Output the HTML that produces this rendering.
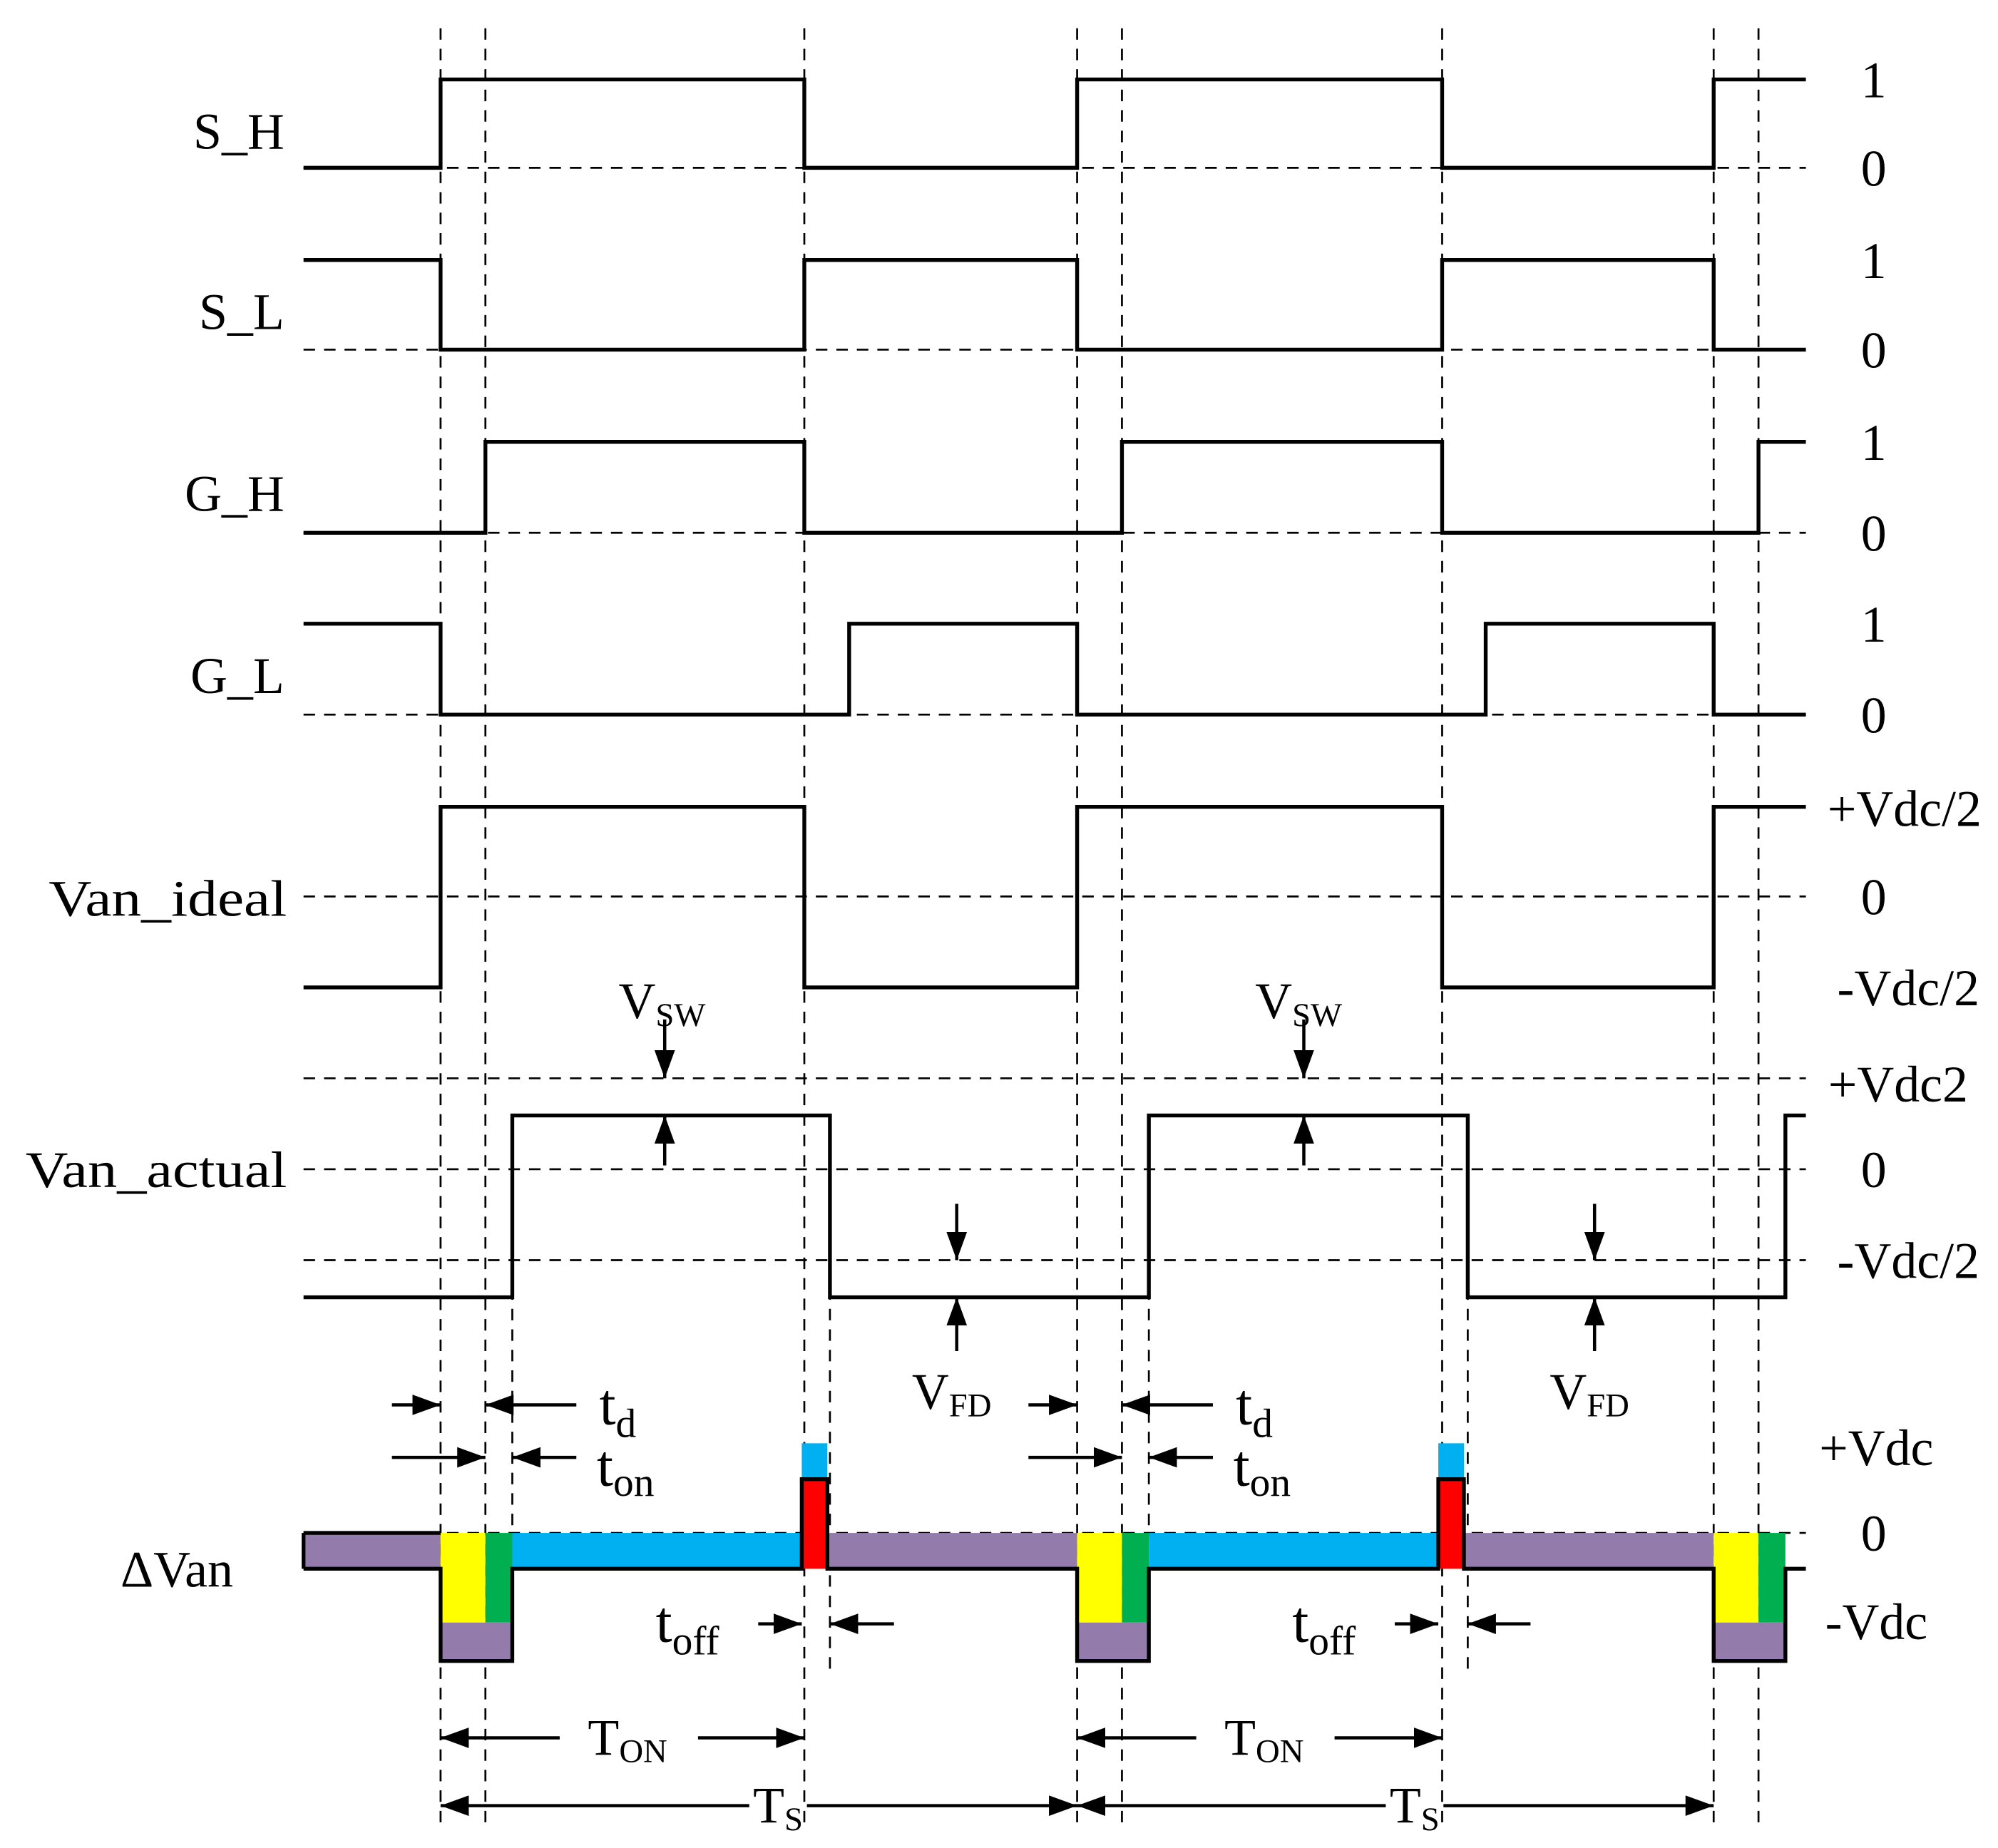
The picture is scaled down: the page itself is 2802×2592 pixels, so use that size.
<!DOCTYPE html>
<html><head><meta charset="utf-8"><style>html,body{margin:0;padding:0;background:#fff}svg{display:block}</style></head><body>
<svg width="2802" height="2592" viewBox="0 0 1560 1443" xmlns="http://www.w3.org/2000/svg" font-family="'Liberation Serif', serif">
<defs>
<marker id="ah" markerWidth="22" markerHeight="16" refX="22" refY="8" orient="auto" markerUnits="userSpaceOnUse" viewBox="0 0 22 16"><path d="M0,0 L22,8 L0,16z" fill="#000"/></marker>
</defs>
<rect width="1560" height="1443" fill="#fff"/>
<g stroke="#000" stroke-width="1.5" stroke-dasharray="9,7" fill="none">
<path d="M344 22V1428M379 22V1428M628 22V1428M841 22V1428M876 22V1428M1126 22V1428M1338 22V1428M1373 22V1428"/>
<path d="M400 990V1200M648 990V1305M897 990V1200M1146 990V1305"/>
<path d="M237 131H1410M237 273H1410M237 416H1410M237 558H1410M237 700H1410M237 842H1410M237 913H1410M237 984H1410M237 1197H1410"/>
</g>
<g stroke="none">
<rect x="237" y="1197" width="107" height="28" fill="#937cab"/>
<rect x="344" y="1197" width="35" height="70" fill="#ffff00"/>
<rect x="379" y="1197" width="21" height="70" fill="#00b050"/>
<rect x="344" y="1267" width="56" height="30" fill="#937cab"/>
<rect x="400" y="1197" width="226" height="28" fill="#00b0f0"/>
<rect x="626" y="1127" width="20" height="28" fill="#00b0f0"/>
<rect x="626" y="1155" width="20" height="70" fill="#ff0000"/>
<rect x="646" y="1197" width="195" height="28" fill="#937cab"/>
<rect x="841" y="1197" width="35" height="70" fill="#ffff00"/>
<rect x="876" y="1197" width="21" height="70" fill="#00b050"/>
<rect x="841" y="1267" width="56" height="30" fill="#937cab"/>
<rect x="897" y="1197" width="226" height="28" fill="#00b0f0"/>
<rect x="1123" y="1127" width="20" height="28" fill="#00b0f0"/>
<rect x="1123" y="1155" width="20" height="70" fill="#ff0000"/>
<rect x="1143" y="1197" width="195" height="28" fill="#937cab"/>
<rect x="1338" y="1197" width="35" height="70" fill="#ffff00"/>
<rect x="1373" y="1197" width="21" height="70" fill="#00b050"/>
<rect x="1338" y="1267" width="56" height="30" fill="#937cab"/>
</g>
<g stroke="#000" stroke-width="3" fill="none" stroke-linejoin="miter">
<path d="M237 131H344V62H628V131H841V62H1126V131H1338V62H1410"/>
<path d="M237 203H344V273H628V203H841V273H1126V203H1338V273H1410"/>
<path d="M237 416H379V345H628V416H876V345H1126V416H1373V345H1410"/>
<path d="M237 487H344V558H663V487H841V558H1160V487H1338V558H1410"/>
<path d="M237 771H344V630H628V771H841V630H1126V771H1338V630H1410"/>
<path d="M237 1013H400V871H648V1013H897V871H1146V1013H1394V871H1410"/>
<path d="M237 1197H344M237 1225V1197"/>
<path d="M237 1225H344V1297H400V1225H626V1155H646V1225H841V1297H897V1225H1123V1155H1143V1225H1338V1297H1394V1225H1410"/>
</g>
<g stroke="#000" stroke-width="2.5" fill="none" marker-end="url(#ah)">
<path d="M519 796V842"/><path d="M519 910V871"/>
<path d="M1018 796V842"/><path d="M1018 910V871"/>
<path d="M747 940V984"/><path d="M747 1055V1013"/>
<path d="M1245 940V984"/><path d="M1245 1055V1013"/>
<path d="M306 1097H344"/><path d="M450 1097H379"/>
<path d="M306 1138H379"/><path d="M450 1138H400"/>
<path d="M803 1097H841"/><path d="M947 1097H876"/>
<path d="M803 1138H876"/><path d="M947 1138H897"/>
<path d="M592 1268H626"/><path d="M698 1268H648"/>
<path d="M1089 1268H1123"/><path d="M1195 1268H1146"/>
<path d="M437 1357H344"/><path d="M545 1357H628"/>
<path d="M934 1357H841"/><path d="M1042 1357H1126"/>
<path d="M585 1410H344"/><path d="M630 1410H841"/>
<path d="M1082 1410H841"/><path d="M1127 1410H1338"/>
</g>
<g font-size="40" fill="#000">
<g text-anchor="end">
<text x="222" y="116">S_H</text>
<text x="222" y="257">S_L</text>
<text x="222" y="399">G_H</text>
<text x="222" y="541">G_L</text>
<text x="224" y="715" textLength="186" lengthAdjust="spacingAndGlyphs">Van_ideal</text>
<text x="224" y="927" textLength="204" lengthAdjust="spacingAndGlyphs">Van_actual</text>
<text x="182" y="1239">ΔVan</text>
</g>
<g text-anchor="middle">
<text x="1463" y="76">1</text><text x="1463" y="145">0</text>
<text x="1463" y="217">1</text><text x="1463" y="287">0</text>
<text x="1463" y="359">1</text><text x="1463" y="430">0</text>
<text x="1463" y="501">1</text><text x="1463" y="572">0</text>
<text x="1487" y="645">+Vdc/2</text><text x="1463" y="714">0</text><text x="1490" y="785">-Vdc/2</text>
<text x="1482" y="860">+Vdc2</text><text x="1463" y="927">0</text><text x="1490" y="998">-Vdc/2</text>
<text x="1465" y="1144">+Vdc</text><text x="1463" y="1211">0</text><text x="1465" y="1280">-Vdc</text>
</g>
<text x="483" y="795">V<tspan font-size="26" dy="6">SW</tspan></text>
<text x="980" y="795">V<tspan font-size="26" dy="6">SW</tspan></text>
<text x="712" y="1100">V<tspan font-size="26" dy="6">FD</tspan></text>
<text x="1210" y="1100">V<tspan font-size="26" dy="6">FD</tspan></text>
<text x="468" y="1112" font-size="46">t<tspan font-size="32" dy="10">d</tspan></text>
<text x="466" y="1160" font-size="46">t<tspan font-size="32" dy="8">on</tspan></text>
<text x="965" y="1112" font-size="46">t<tspan font-size="32" dy="10">d</tspan></text>
<text x="963" y="1160" font-size="46">t<tspan font-size="32" dy="8">on</tspan></text>
<text x="512" y="1282" font-size="46">t<tspan font-size="32" dy="10">off</tspan></text>
<text x="1009" y="1282" font-size="46">t<tspan font-size="32" dy="10">off</tspan></text>
<text x="459" y="1370">T<tspan font-size="26" dy="6">ON</tspan></text>
<text x="956" y="1370">T<tspan font-size="26" dy="6">ON</tspan></text>
<text x="588" y="1423">T<tspan font-size="26" dy="6">S</tspan></text>
<text x="1085" y="1423">T<tspan font-size="26" dy="6">S</tspan></text>
</g>
</svg>
</body></html>
